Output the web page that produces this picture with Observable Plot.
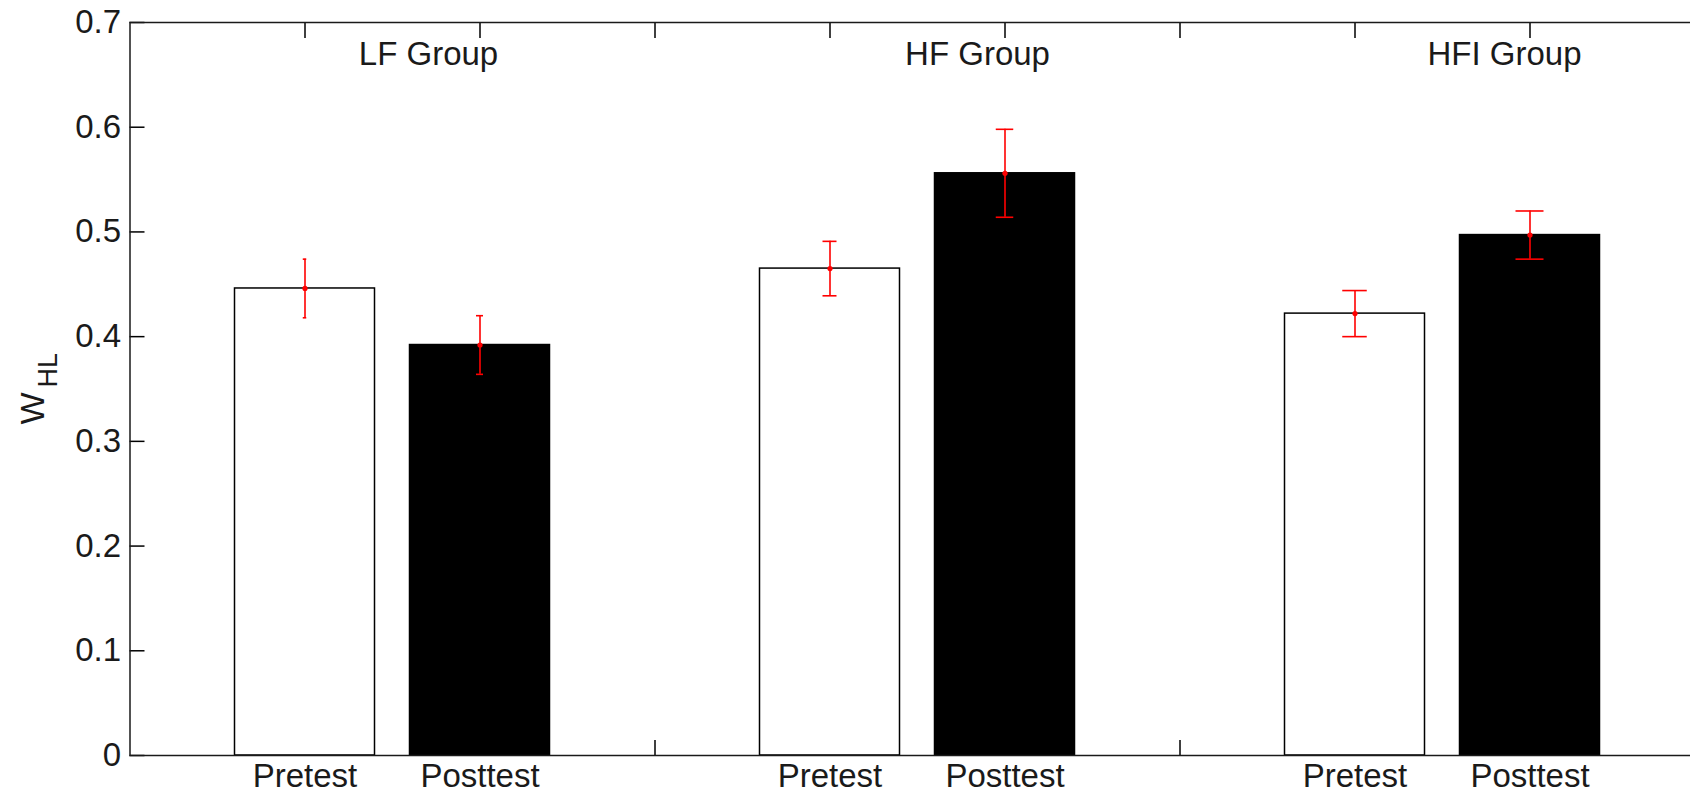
<!DOCTYPE html>
<html>
<head>
<meta charset="utf-8">
<script src="https://cdn.jsdelivr.net/npm/d3@7"></script>
<script src="https://cdn.jsdelivr.net/npm/@observablehq/plot@0.6"></script>
<style>
  html, body { margin: 0; padding: 0; background: #fff; overflow: hidden; }
  #chart { width: 1690px; height: 794px; overflow: hidden; }
  #chart svg { max-width: none !important; }
</style>
</head>
<body>
<div id="chart"></div>
<script>
// ---- data ----
const groups = ["LF Group", "HF Group", "HFI Group"];
const phases = ["Pretest", "Posttest"];
const pretestMean = [0.446, 0.465, 0.422];
const posttestMean = [0.392, 0.556, 0.497];
const pretestErr = [0.028, 0.026, 0.022];
const posttestErr = [0.028, 0.042, 0.023];
const yTicks = [0, 0.1, 0.2, 0.3, 0.4, 0.5, 0.6, 0.7];
const yTickLabels = ["0", "0.1", "0.2", "0.3", "0.4", "0.5", "0.6", "0.7"];
const yLabel = "W";
const yLabelSub = "HL";

// ---- build table: each group occupies two bar slots plus one separator slot ----
const slotsPerGroup = phases.length + 1;
const rows = [];
groups.forEach((g, gi) => {
  phases.forEach((p, pi) => {
    rows.push({
      group: g,
      phase: p,
      pos: gi * slotsPerGroup + pi + 1,
      mean: (pi === 0 ? pretestMean : posttestMean)[gi],
      err: (pi === 0 ? pretestErr : posttestErr)[gi]
    });
  });
});
const groupRows = groups.map((g, gi) => ({group: g, mid: gi * slotsPerGroup + (phases.length + 1) / 2}));
const xMax = groups.length * slotsPerGroup;
const xTicks = d3.range(1, xMax);
const tickLabel = new Map(rows.map(r => [r.pos, r.phase]));
const barWidth = 0.8;
const capFrac = 0.01;
const groupLabelDx = {"LF Group": 36, "HF Group": 60, "HFI Group": 62};

const font = "'Liberation Sans', Arial, Helvetica, sans-serif";
const ink = "#000";

const marks = [
  // axes (drawn first so the bars hide the bottom ticks under them)
  Plot.axisY({anchor: "left", ticks: yTicks, tickSize: -15, tickPadding: 24,
    tickFormat: d => yTickLabels[yTicks.indexOf(d)], label: null, strokeWidth: 1.5, fill: "#1a1a1a"}),
  Plot.axisY({anchor: "right", ticks: yTicks, tickSize: -15, tickFormat: () => "", label: null, strokeWidth: 1.5}),
  Plot.axisX({anchor: "bottom", ticks: xTicks, tickSize: -15, tickPadding: 23,
    tickFormat: d => tickLabel.get(d) ?? "", label: null, strokeWidth: 1.5, fill: "#1a1a1a"}),
  Plot.axisX({anchor: "top", ticks: xTicks, tickSize: -15, tickFormat: () => "", label: null, strokeWidth: 1.5}),
  // bars
  Plot.rectY(rows, {
    x1: d => d.pos - barWidth / 2,
    x2: d => d.pos + barWidth / 2,
    y1: 0,
    y2: "mean",
    fill: "phase",
    stroke: ink,
    strokeWidth: 1.5
  }),
  // error bars
  Plot.ruleX(rows, {x: "pos", y1: d => d.mean - d.err, y2: d => d.mean + d.err, stroke: "red", strokeWidth: 1.6}),
  Plot.ruleY(rows, {y: d => d.mean + d.err, x1: d => d.pos * (1 - capFrac), x2: d => d.pos * (1 + capFrac), stroke: "red", strokeWidth: 1.6}),
  Plot.ruleY(rows, {y: d => d.mean - d.err, x1: d => d.pos * (1 - capFrac), x2: d => d.pos * (1 + capFrac), stroke: "red", strokeWidth: 1.6}),
  Plot.dot(rows, {x: "pos", y: "mean", r: 2.6, fill: "red", stroke: null}),
  // box
  Plot.frame({stroke: "#1a1a1a", strokeWidth: 1.5}),
  // y label  W_HL
  Plot.text([yLabel], {frameAnchor: "left", text: d => d, rotate: -90, textAnchor: "end",
    dx: -97, dy: 3.5, fontSize: 34, fill: "#1a1a1a"}),
  Plot.text([yLabelSub], {frameAnchor: "left", text: d => d, rotate: -90, textAnchor: "start",
    dx: -82, dy: -1.5, fontSize: 27, fill: "#1a1a1a"})
];
// group labels
groupRows.forEach(gr => {
  marks.push(Plot.text([gr], {
    x: "mid", text: "group", frameAnchor: "top", lineAnchor: "top", dy: 19,
    dx: groupLabelDx[gr.group], textAnchor: "middle", fontSize: 33, fill: "#1a1a1a"
  }));
});

const chart = Plot.plot({
  width: 1706,
  height: 794,
  marginLeft: 129.5,
  marginRight: 1.5,
  marginTop: 22,
  marginBottom: 39,
  style: {fontFamily: font, fontSize: "33px", background: "#fff", overflow: "visible", maxWidth: "none"},
  x: {type: "linear", domain: [0, xMax], axis: null},
  y: {domain: [0, 0.7], axis: null},
  color: {domain: phases, range: ["#ffffff", "#000000"]},
  marks
});
document.getElementById("chart").appendChild(chart);
</script>
</body>
</html>
